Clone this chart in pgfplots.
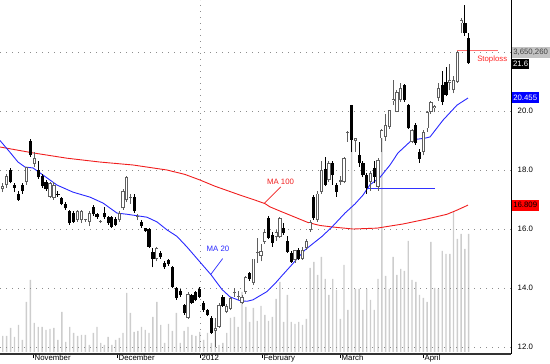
\documentclass[border=0pt]{standalone}
\usepackage{pgfplots}
\pgfplotsset{compat=1.18}
\usepackage{pgfplotstable}
\usepackage{fontspec}
\setmainfont{Liberation Sans}
\definecolor{volc}{RGB}{205,205,205}
\definecolor{hollowc}{RGB}{95,95,95}
\definecolor{ma20c}{RGB}{40,40,255}
\definecolor{hlinec}{RGB}{50,50,255}
\definecolor{ma100c}{RGB}{240,30,30}
\definecolor{stopc}{RGB}{255,110,110}
\definecolor{gridc}{RGB}{140,140,140}
\definecolor{lblgray}{RGB}{195,195,195}
\newcommand{\lab}{\fontsize{7.8bp}{9bp}\selectfont}
\pgfplotsset{candle/.style={draw=none, mark=none, forget plot,
  error bars/.cd, y dir=plus, y explicit, error mark=none}}

\pgfplotstableread{
x o h l c
2.7 17.35 17.55 17.25 17.45
6.6 17.5 17.85 17.4 17.8
26.3 17.6 18.1 17.5 18.1
34.2 18.2 18.6 18.1 18.4
50.0 17.1 17.6 17.05 17.55
53.9 17.05 17.6 17.0 17.5
77.6 16.3 16.65 16.25 16.6
81.5 16.3 16.65 16.2 16.6
85.4 16.3 16.35 16.25 16.34
89.4 16.25 16.6 16.1 16.55
100.7 16.24 16.3 16.2 16.28
119.3 16.3 16.6 16.25 16.55
123.0 16.7 17.35 16.65 17.29
126.7 16.98 17.8 16.9 17.77
130.4 17.04 17.2 16.85 17.08
137.8 16.4 16.5 16.3 16.44
156.8 14.98 15.4 14.9 15.36
188.0 13.0 13.85 12.95 13.8
215.2 12.55 13.0 12.0 12.65
219.0 12.68 13.5 12.65 13.42
226.7 13.2 13.45 13.15 13.4
230.5 13.3 13.7 13.25 13.65
234.3 13.82 14.0 13.7 13.86
238.1 13.7 13.9 13.6 13.74
242.0 13.5 13.75 13.45 13.7
245.8 13.86 14.4 13.8 14.37
253.4 14.17 15.0 14.1 15.0
257.2 15.18 15.7 14.85 15.22
261.0 15.1 15.5 14.9 15.25
264.8 15.57 16.0 15.5 15.91
276.1 15.72 15.95 15.6 15.91
279.9 15.73 16.4 15.7 16.37
295.0 14.95 15.3 14.85 15.29
302.5 15.0 15.4 14.95 15.3
306.3 15.36 15.65 15.3 15.6
310.1 15.97 16.3 15.9 16.25
317.6 16.3 17.3 16.25 17.2
321.4 17.26 18.3 17.2 18.0
328.9 17.66 18.3 17.6 18.24
340.3 17.6 17.8 17.5 17.65
344.0 17.6 18.45 17.55 18.4
347.8 19.26 19.32 18.95 19.3
355.4 18.98 19.1 18.62 19.07
370.5 17.6 17.95 17.3 17.89
378.0 17.43 18.4 17.3 18.34
381.8 19.07 19.4 18.6 19.36
385.6 19.13 19.9 19.0 19.53
389.3 19.47 20.05 19.4 20.03
393.1 20.33 21.05 20.2 20.4
396.9 19.97 20.7 19.95 20.65
400.7 20.37 20.95 20.3 20.77
412.0 18.96 19.4 18.9 19.36
423.3 18.62 19.35 18.5 19.3
427.1 19.41 20.0 19.3 19.97
430.9 19.97 20.35 19.9 20.31
434.6 20.1 20.2 19.95 20.18
438.4 20.43 20.95 20.35 20.77
449.8 20.95 21.6 20.7 21.05
453.5 20.71 21.2 20.6 21.05
457.3 21.0 22.05 20.95 22.0
461.1 22.97 23.15 22.64 23.08
}\upc

\pgfplotstableread{
x o h l c
10.6 18.0 18.06 17.55 17.6
14.5 17.5 17.55 17.25 17.4
18.5 17.2 17.3 16.95 17.0
22.4 17.5 17.55 17.2 17.3
30.3 19.0 19.05 18.45 18.5
38.2 18.0 18.3 17.7 17.75
42.1 17.8 17.85 17.4 17.45
46.0 17.6 17.65 17.3 17.35
57.9 17.2 17.3 17.1 17.15
61.8 17.05 17.1 16.8 16.85
65.7 16.85 16.9 16.65 16.7
69.7 16.6 16.65 16.15 16.2
73.6 16.55 16.6 16.2 16.25
93.3 16.75 16.8 16.45 16.5
97.0 16.5 16.55 16.35 16.4
104.4 16.55 16.75 16.35 16.4
108.1 16.4 16.45 16.15 16.2
111.8 16.4 16.45 16.05 16.07
115.6 16.35 16.4 16.1 16.15
134.1 17.1 17.2 16.55 16.6
141.5 16.24 16.3 16.05 16.1
145.2 16.03 16.05 15.9 15.93
149.0 16.0 16.05 15.35 15.4
152.9 15.22 15.35 14.7 15.0
160.7 15.2 15.25 15.0 15.05
164.6 14.85 14.9 14.65 14.7
168.5 14.95 15.0 14.75 14.8
172.4 14.7 14.75 14.0 14.05
176.3 14.0 14.05 13.6 13.66
180.2 13.9 13.95 13.7 13.75
184.1 13.42 13.45 13.1 13.15
191.9 13.75 13.8 13.45 13.5
195.8 13.85 13.9 13.55 13.6
199.7 13.95 14.05 13.65 13.7
203.6 13.5 13.55 13.2 13.25
207.5 13.25 13.3 13.05 13.1
211.4 13.0 13.05 12.45 12.47
222.9 13.7 13.75 13.35 13.4
249.6 14.5 14.55 14.25 14.3
268.5 16.37 16.45 15.65 15.7
272.3 15.8 15.9 15.4 15.53
283.6 16.03 16.2 15.8 15.86
287.4 15.6 15.75 15.2 15.23
291.2 15.19 15.25 14.85 14.88
298.7 15.3 15.35 14.95 15.0
313.8 17.1 17.15 16.3 16.36
325.2 18.05 18.45 17.45 17.5
332.7 18.24 18.3 17.5 17.83
336.5 17.49 17.55 17.1 17.26
351.6 20.2 20.22 18.6 19.02
359.1 18.51 18.96 18.1 18.23
362.9 18.23 18.3 17.75 17.83
366.7 17.83 17.9 17.2 17.38
374.2 18.06 18.3 17.55 17.77
404.4 20.88 20.9 20.3 20.37
408.2 20.2 20.25 19.4 19.41
415.8 19.53 19.6 18.85 18.9
419.5 18.62 18.7 18.24 18.39
442.2 20.88 21.35 20.2 20.32
446.0 21.0 21.5 20.5 20.55
464.9 22.97 23.6 22.55 22.63
468.6 22.46 22.64 21.6 21.62
}\downc

\pgfplotstableread{
x v
2.7 16
6.6 16
10.6 24
14.5 15
18.5 27
22.4 12
26.3 50
30.3 72
34.2 29
38.2 25
42.1 25
46.0 22
50.0 23
53.9 24
57.9 12
61.8 40
65.7 10
69.7 25
73.6 19
77.6 16
81.5 17
85.4 17
89.4 7
93.3 19
97.0 25
100.7 9
104.4 7
108.1 15
111.8 7
115.6 12
119.3 14
123.0 19
126.7 59
130.4 39
134.1 20
137.8 21
141.5 25
145.2 22
149.0 19
152.9 35
156.8 50
160.7 27
164.6 9
168.5 28
172.4 21
176.3 39
180.2 9
184.1 21
188.0 25
191.9 17
195.8 16
199.7 20
203.6 12
207.5 19
211.4 9
215.2 29
219.0 7
222.9 9
226.7 19
230.5 34
234.3 35
238.1 25
242.0 60
245.8 45
249.6 30
253.4 44
257.2 31
261.0 46
264.8 37
268.5 31
272.3 35
276.1 53
279.9 70
283.6 30
287.4 57
291.2 30
295.0 28
298.7 30
302.5 27
306.3 33
310.1 84
313.8 90
317.6 77
321.4 95
325.2 73
328.9 57
332.7 73
336.5 62
340.3 33
344.0 87
347.8 42
351.6 247
355.4 63
359.1 63
362.9 42
366.7 63
370.5 52
374.2 42
378.0 73
381.8 222
385.6 76
389.3 63
393.1 95
396.9 77
400.7 83
404.4 81
408.2 111
412.0 72
415.8 70
419.5 57
423.3 54
427.1 50
430.9 110
434.6 64
438.4 63
442.2 101
446.0 98
449.8 98
453.5 140
457.3 113
461.1 118
464.9 103
468.6 118
}\volt

\begin{document}
\begin{tikzpicture}
\useasboundingbox (0,0) rectangle (550bp,364bp);
% volume axis
\begin{axis}[at={(0,10bp)}, anchor=south west, scale only axis,
  width=511bp, height=354bp, xmin=0, xmax=511, ymin=-2, ymax=352, hide axis]
\addplot[ybar, bar width=1.4bp, bar shift=0pt, fill=volc, draw=none] table[x=x,y=v]{\volt};
\end{axis}
% price axis
\begin{axis}[at={(0,10bp)}, anchor=south west, scale only axis,
  width=511bp, height=354bp, xmin=0, xmax=511, ymin=11.763, ymax=23.763,
  axis x line*=bottom, axis y line*=right,
  x axis line style={black!80, line width=1.3bp},
  y axis line style={black, line width=0.8bp},
  xtick={33,117,200,262,340,423},
  xticklabels={November,December,2012,February,March,April},
  ytick={12,14,16,18,20,22}, yticklabels={12.0,14.0,16.0,18.0,20.0,{}},
  ymajorgrids, grid style={gridc, dash pattern=on 1.1bp off 4.9bp},
  tick align=outside, major tick length=4bp,
  xtick style={black, line width=0.7bp}, ytick style={draw=none},
  tick label style={font=\lab},
  xticklabel style={anchor=north west, inner sep=0pt, xshift=1.5bp, yshift=3bp},
  yticklabel style={anchor=west, inner sep=0pt, xshift=2.5bp},
  clip=false]
\draw[gridc, dash pattern=on 1.1bp off 4.9bp] (200,11.763) -- (200,23.763);
% moving averages
\addplot[ma100c, line width=0.9bp] coordinates {(0,18.78) (33,18.58) (67,18.4) (100,18.27) (133,18.17) (167,18.0) (185,17.85) (200,17.66) (215,17.45) (240,17.15) (255,16.98) (265,16.86) (270,16.75) (282,16.58) (290,16.47) (308,16.22) (320,16.12) (332,16.07) (353,16.0) (377,16.03) (403,16.17) (427,16.34) (447,16.5) (457,16.64) (468,16.81)};
\addplot[ma20c, line width=0.9bp] coordinates {(0,19.0) (10,18.6) (18,18.27) (25,18.1) (33,18.07) (43,17.83) (57,17.49) (73,17.25) (90,17.08) (103,16.88) (117,16.54) (127,16.5) (147,16.4) (157,16.24) (167,15.97) (177,15.75) (187,15.39) (200,14.88) (211,14.45) (222,13.95) (230,13.7) (240,13.57) (247,13.55) (253,13.6) (260,13.74) (267,13.88) (275,14.15) (282,14.42) (290,14.72) (305,15.29) (322,15.75) (332,16.07) (345,16.54) (355,16.85) (363,17.15) (370,17.5) (380,17.75) (390,18.17) (398,18.58) (405,18.8) (412,19.02) (425,19.08) (430,19.12) (443,19.69) (457,20.2) (468,20.44)};
\addplot[color=hlinec, line width=1.1bp, mark=none] coordinates {(368,17.36) (435,17.36)};
\addplot[color=stopc, line width=1bp, mark=none] coordinates {(457,22.04) (498,22.04)};
% wicks
\addplot[candle, error bar style={line width=0.9bp, draw=hollowc, solid}]
  table[x=x, y=l, y error plus expr={\thisrow{h}-\thisrow{l}}] {\upc};
\addplot[candle, error bar style={line width=0.9bp, draw=black, solid}]
  table[x=x, y=l, y error plus expr={\thisrow{h}-\thisrow{l}}] {\downc};
% bodies
\addplot[candle, error bar style={line width=3.2bp, draw=hollowc, solid}]
  table[x=x, y=o, y error plus expr={\thisrow{c}-\thisrow{o}}] {\upc};
\addplot[candle, error bar style={line width=1.4bp, draw=white, solid}]
  table[x=x, y expr={\thisrow{o}+0.03}, y error plus expr={max(\thisrow{c}-\thisrow{o}-0.06,0)}] {\upc};
\addplot[candle, error bar style={line width=3.2bp, draw=black, solid}]
  table[x=x, y=c, y error plus expr={\thisrow{o}-\thisrow{c}}] {\downc};
% annotations
\node[text=ma100c, font=\lab] at (280.5,17.61) {MA 100};
\draw[ma100c, line width=0.7bp] (280.7,17.43) -- (264.3,16.87);
\node[text=ma20c, font=\lab] at (218,15.34) {MA 20};
\draw[ma20c, line width=0.7bp] (222.7,15.0) -- (211,14.47);
\node[text=red!85!white, font=\lab] at (492.2,21.75) {Stoploss};
% right-side value boxes
\node[anchor=west, fill=lblgray, text=black!75, font=\lab, inner xsep=1.5bp, inner ysep=0pt, minimum height=11bp, text height=5.7bp, text depth=0.3bp] at (511.6,22.0) {3,650,260};
\node[anchor=west, fill=black, text=white, font=\lab, inner xsep=1.2bp, inner ysep=0pt, minimum height=10bp, text height=5.7bp, text depth=0.3bp] at (511.6,21.6) {21.6};
\node[anchor=west, fill=blue, text=white, font=\lab, inner xsep=1.5bp, inner ysep=0pt, minimum height=11bp, text height=5.7bp, text depth=0.3bp] at (511.6,20.455) {20.455};
\node[anchor=west, fill=red, text=black, font=\lab, inner xsep=1.5bp, inner ysep=0pt, minimum height=11bp, text height=5.7bp, text depth=0.3bp] at (511.6,16.809) {16.809};
\end{axis}
\end{tikzpicture}
\end{document}
